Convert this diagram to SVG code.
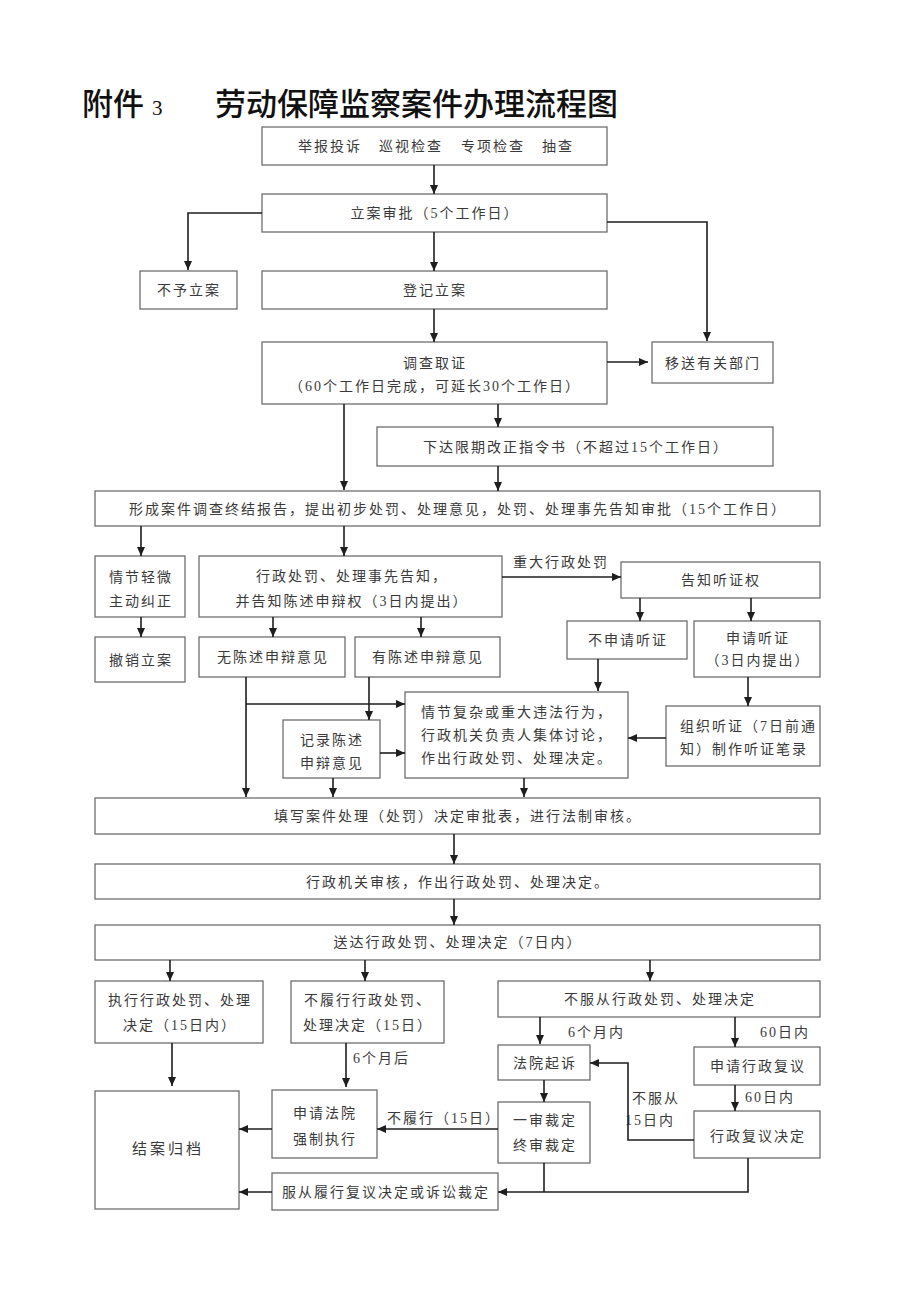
<svg xmlns="http://www.w3.org/2000/svg" width="920" height="1301" viewBox="0 0 920 1301">
<style>
.b{fill:#fff;stroke:#6e6e6e;stroke-width:1.3}
.t{font-family:"Liberation Serif","Noto Sans CJK SC",serif;font-size:14px;fill:#3a3a3a;letter-spacing:2px}
.c{text-anchor:middle}
.l{fill:none;stroke:#1e1e1e;stroke-width:1.6}
</style>
<defs>
<marker id="a" markerWidth="10" markerHeight="10" refX="9" refY="5" orient="auto" markerUnits="userSpaceOnUse">
<path d="M0,1 L9,5 L0,9 Z" fill="#1e1e1e"/>
</marker>
</defs>
<rect width="920" height="1301" fill="#fff"/>
<g id="title">
<text x="82" y="115" font-family="Noto Sans CJK SC,sans-serif" font-size="31" font-weight="500" fill="#111">附件</text>
<text x="152" y="115" font-family="Liberation Serif,serif" font-size="21" fill="#111">3</text>
<text x="215" y="115" font-family="Noto Sans CJK SC,sans-serif" font-size="31" font-weight="500" fill="#111">劳动保障监察案件办理流程图</text>
</g>
<g id="n1"><rect class="b" x="262" y="127" width="345" height="38"/>
<text class="t" x="298" y="151">举报投诉</text><text class="t" x="379" y="151">巡视检查</text><text class="t" x="461" y="151">专项检查</text><text class="t" x="542" y="151">抽查</text></g>
<g id="n2"><rect class="b" x="262" y="194" width="345" height="38"/><text class="t c" x="435" y="218">立案审批（5个工作日）</text></g>
<g id="n3"><rect class="b" x="140" y="271" width="97" height="38"/><text class="t c" x="189" y="295">不予立案</text></g>
<g id="n4"><rect class="b" x="262" y="271" width="345" height="38"/><text class="t c" x="435" y="295">登记立案</text></g>
<g id="n5"><rect class="b" x="262" y="342" width="345" height="62"/><text class="t c" x="435" y="368">调查取证</text><text class="t c" x="435" y="391">（60个工作日完成，可延长30个工作日）</text></g>
<g id="n6"><rect class="b" x="652" y="342" width="121" height="41"/><text class="t c" x="713" y="368">移送有关部门</text></g>
<g id="n7"><rect class="b" x="377" y="427" width="396" height="39"/><text class="t c" x="576" y="452">下达限期改正指令书（不超过15个工作日）</text></g>
<g id="n8"><rect class="b" x="95" y="491" width="725" height="35"/><text class="t c" x="458" y="514">形成案件调查终结报告，提出初步处罚、处理意见，处罚、处理事先告知审批（15个工作日）</text></g>
<g id="n9"><rect class="b" x="95" y="556" width="90" height="61"/><text class="t c" x="141" y="582">情节轻微</text><text class="t c" x="141" y="606">主动纠正</text></g>
<g id="n10"><rect class="b" x="95" y="637" width="90" height="45"/><text class="t c" x="141" y="665">撤销立案</text></g>
<g id="n11"><rect class="b" x="199" y="556" width="303" height="61"/><text class="t c" x="352" y="581">行政处罚、处理事先告知，</text><text class="t c" x="352" y="606">并告知陈述申辩权（3日内提出）</text></g>
<g id="n12"><rect class="b" x="621" y="562" width="199" height="36"/><text class="t c" x="721" y="585">告知听证权</text></g>
<g id="n13"><rect class="b" x="567" y="621" width="120" height="38"/><text class="t c" x="628" y="645">不申请听证</text></g>
<g id="n14"><rect class="b" x="694" y="621" width="126" height="56"/><text class="t c" x="758" y="643">申请听证</text><text class="t c" x="758" y="665">（3日内提出）</text></g>
<g id="n15"><rect class="b" x="199" y="637" width="146" height="40"/><text class="t c" x="273" y="662">无陈述申辩意见</text></g>
<g id="n16"><rect class="b" x="355" y="637" width="145" height="40"/><text class="t c" x="428" y="662">有陈述申辩意见</text></g>
<g id="n17"><rect class="b" x="405" y="692" width="223" height="86"/><text class="t" x="421" y="717">情节复杂或重大违法行为，</text><text class="t" x="421" y="740">行政机关负责人集体讨论，</text><text class="t" x="421" y="763">作出行政处罚、处理决定。</text></g>
<g id="n18"><rect class="b" x="666" y="706" width="154" height="60"/><text class="t" x="680" y="731">组织听证（7日前通</text><text class="t" x="680" y="754">知）制作听证笔录</text></g>
<g id="n19"><rect class="b" x="283" y="720" width="97" height="58"/><text class="t c" x="332" y="745">记录陈述</text><text class="t c" x="332" y="768">申辩意见</text></g>
<g id="n20"><rect class="b" x="95" y="798" width="725" height="36"/><text class="t c" x="458" y="821">填写案件处理（处罚）决定审批表，进行法制审核。</text></g>
<g id="n21"><rect class="b" x="95" y="864" width="725" height="35"/><text class="t c" x="458" y="887">行政机关审核，作出行政处罚、处理决定。</text></g>
<g id="n22"><rect class="b" x="95" y="925" width="725" height="35"/><text class="t c" x="458" y="947">送达行政处罚、处理决定（7日内）</text></g>
<g id="n23"><rect class="b" x="95" y="981" width="168" height="62"/><text class="t c" x="180" y="1005">执行行政处罚、处理</text><text class="t c" x="180" y="1030">决定（15日内）</text></g>
<g id="n24"><rect class="b" x="291" y="981" width="153" height="62"/><text class="t c" x="368" y="1005">不履行行政处罚、</text><text class="t c" x="368" y="1030">处理决定（15日）</text></g>
<g id="n25"><rect class="b" x="498" y="981" width="322" height="36"/><text class="t c" x="660" y="1004">不服从行政处罚、处理决定</text></g>
<g id="n26"><rect class="b" x="498" y="1045" width="92" height="35"/><text class="t c" x="545" y="1068">法院起诉</text></g>
<g id="n27"><rect class="b" x="694" y="1047" width="126" height="38"/><text class="t c" x="758" y="1071">申请行政复议</text></g>
<g id="n28"><rect class="b" x="498" y="1102" width="92" height="61"/><text class="t c" x="545" y="1125">一审裁定</text><text class="t c" x="545" y="1150">终审裁定</text></g>
<g id="n29"><rect class="b" x="694" y="1111" width="126" height="47"/><text class="t c" x="758" y="1141">行政复议决定</text></g>
<g id="n30"><rect class="b" x="272" y="1090" width="105" height="68"/><text class="t c" x="325" y="1118">申请法院</text><text class="t c" x="325" y="1144">强制执行</text></g>
<g id="n31"><rect class="b" x="95" y="1091" width="144" height="118"/><text class="t c" x="168" y="1154" style="font-size:15px;letter-spacing:3px">结案归档</text></g>
<g id="n32"><rect class="b" x="272" y="1173" width="226" height="37"/><text class="t c" x="386" y="1197">服从履行复议决定或诉讼裁定</text></g>
<g id="labels">
<text class="t c" x="561" y="567">重大行政处罚</text>
<text class="t" x="568" y="1037">6个月内</text>
<text class="t" x="760" y="1037">60日内</text>
<text class="t" x="353" y="1063">6个月后</text>
<text class="t" x="745" y="1102">60日内</text>
<text class="t" x="632" y="1103">不服从</text>
<text class="t" x="625" y="1125">15日内</text>
<text class="t" x="387" y="1123">不履行（15日）</text>
</g>
<g id="connectors">
<path class="l" marker-end="url(#a)" d="M434,165 V194"/>
<path class="l" marker-end="url(#a)" d="M262,213 H188 V270"/>
<path class="l" marker-end="url(#a)" d="M607,222 H707 V341"/>
<path class="l" marker-end="url(#a)" d="M434,232 V271"/>
<path class="l" marker-end="url(#a)" d="M434,309 V342"/>
<path class="l" marker-end="url(#a)" d="M607,362 H648"/>
<path class="l" marker-end="url(#a)" d="M344,404 V490"/>
<path class="l" marker-end="url(#a)" d="M498,404 V427"/>
<path class="l" marker-end="url(#a)" d="M498,466 V491"/>
<path class="l" marker-end="url(#a)" d="M141,526 V556"/>
<path class="l" marker-end="url(#a)" d="M344,526 V556"/>
<path class="l" marker-end="url(#a)" d="M141,617 V637"/>
<path class="l" marker-end="url(#a)" d="M502,577 H621"/>
<path class="l" marker-end="url(#a)" d="M640,598 V621"/>
<path class="l" marker-end="url(#a)" d="M751,598 V621"/>
<path class="l" marker-end="url(#a)" d="M273,617 V637"/>
<path class="l" marker-end="url(#a)" d="M421,617 V637"/>
<path class="l" marker-end="url(#a)" d="M598,659 V691"/>
<path class="l" marker-end="url(#a)" d="M748,677 V706"/>
<path class="l" marker-end="url(#a)" d="M666,738 H628"/>
<path class="l" marker-end="url(#a)" d="M246,677 V797"/>
<path class="l" marker-end="url(#a)" d="M246,704 H405"/>
<path class="l" marker-end="url(#a)" d="M369,677 V720"/>
<path class="l" marker-end="url(#a)" d="M380,753 H405"/>
<path class="l" marker-end="url(#a)" d="M333,778 V797"/>
<path class="l" marker-end="url(#a)" d="M524,778 V797"/>
<path class="l" marker-end="url(#a)" d="M454,834 V864"/>
<path class="l" marker-end="url(#a)" d="M454,899 V925"/>
<path class="l" marker-end="url(#a)" d="M170,960 V981"/>
<path class="l" marker-end="url(#a)" d="M365,960 V981"/>
<path class="l" marker-end="url(#a)" d="M650,960 V981"/>
<path class="l" marker-end="url(#a)" d="M540,1017 V1044"/>
<path class="l" marker-end="url(#a)" d="M735,1017 V1047"/>
<path class="l" marker-end="url(#a)" d="M172,1043 V1086"/>
<path class="l" marker-end="url(#a)" d="M346,1043 V1087"/>
<path class="l" marker-end="url(#a)" d="M544,1080 V1102"/>
<path class="l" marker-end="url(#a)" d="M735,1085 V1111"/>
<path class="l" marker-end="url(#a)" d="M694,1140 H628 V1063 H590"/>
<path class="l" marker-end="url(#a)" d="M498,1129 H377"/>
<path class="l" marker-end="url(#a)" d="M272,1129 H239"/>
<path class="l" marker-end="url(#a)" d="M272,1192 H239"/>
<path class="l" d="M544,1163 V1192"/>
<path class="l" marker-end="url(#a)" d="M748,1158 V1192 H498"/>
</g>
</svg>
